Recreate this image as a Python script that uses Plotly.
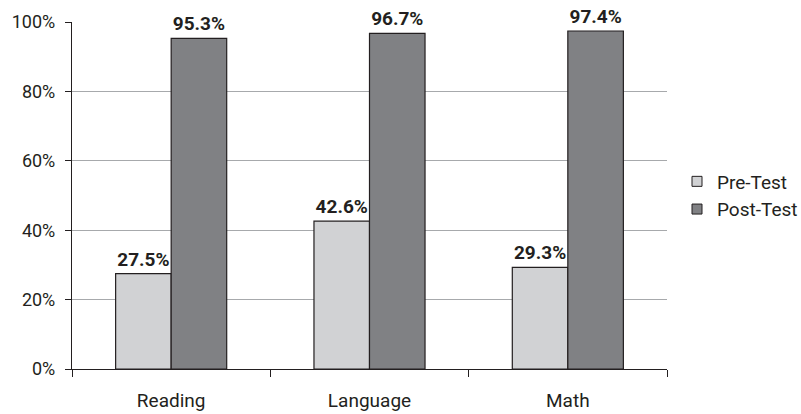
import plotly.graph_objects as go

categories = ["Reading", "Language", "Math"]
pre_test = [27.5, 42.6, 29.3]
post_test = [95.3, 96.7, 97.4]
y_ticks = [0, 20, 40, 60, 80, 100]
y_tick_labels = ["0%", "20%", "40%", "60%", "80%", "100%"]
series_names = ["Pre-Test", "Post-Test"]
series_colors = ["#d1d2d4", "#808184"]

FONT = "Roboto"
EDGE = "#231f20"
fig = go.Figure()
for name, vals, col in zip(series_names, [pre_test, post_test], series_colors):
    fig.add_trace(go.Bar(
        name=name, x=categories, y=vals, showlegend=False,
        marker=dict(color=col, line=dict(color=EDGE, width=1.2)),
        text=[f"{v:.1f}%" for v in vals], textposition="outside",
        textfont=dict(family=FONT, size=19, color=EDGE, weight="bold"),
        cliponaxis=False, hoverinfo="skip",
    ))
# legend entries with small square swatches
for name, col in zip(series_names, series_colors):
    fig.add_trace(go.Scatter(
        name=name, x=[None], y=[None], mode="markers",
        marker=dict(symbol="square", size=10, color=col,
                    line=dict(color=EDGE, width=1)),
    ))
fig.update_layout(
    width=801, height=414,
    margin=dict(l=72, r=134, t=22, b=45),
    paper_bgcolor="white", plot_bgcolor="white",
    font=dict(family=FONT, size=19, color=EDGE),
    barmode="group", bargap=0.44, bargroupgap=0,
    showlegend=True,
    legend=dict(x=677 / 801, xref="container", y=0.5, yanchor="middle",
                xanchor="left", font=dict(size=19, color=EDGE),
                tracegroupgap=0, itemwidth=30),
)
fig.update_xaxes(
    showline=True, linecolor=EDGE, linewidth=1.2,
    ticks="outside", tickson="boundaries", ticklen=7, tickcolor=EDGE,
    showgrid=False, ticklabelstandoff=14, automargin=False,
)
fig.update_yaxes(
    range=[0, 100], tickvals=y_ticks, ticktext=y_tick_labels,
    showline=True, linecolor=EDGE, linewidth=1.2,
    ticks="outside", ticklen=6, tickcolor=EDGE,
    tickfont=dict(size=18),
    showgrid=True, gridcolor="#a7a9ac", gridwidth=1,
    zeroline=False, ticklabelstandoff=6, automargin=False,
)
fig.write_html(
    "out.html",
    config={"displayModeBar": False},
    post_script="document.body.style.margin='0';document.body.style.overflow='hidden';",
)
